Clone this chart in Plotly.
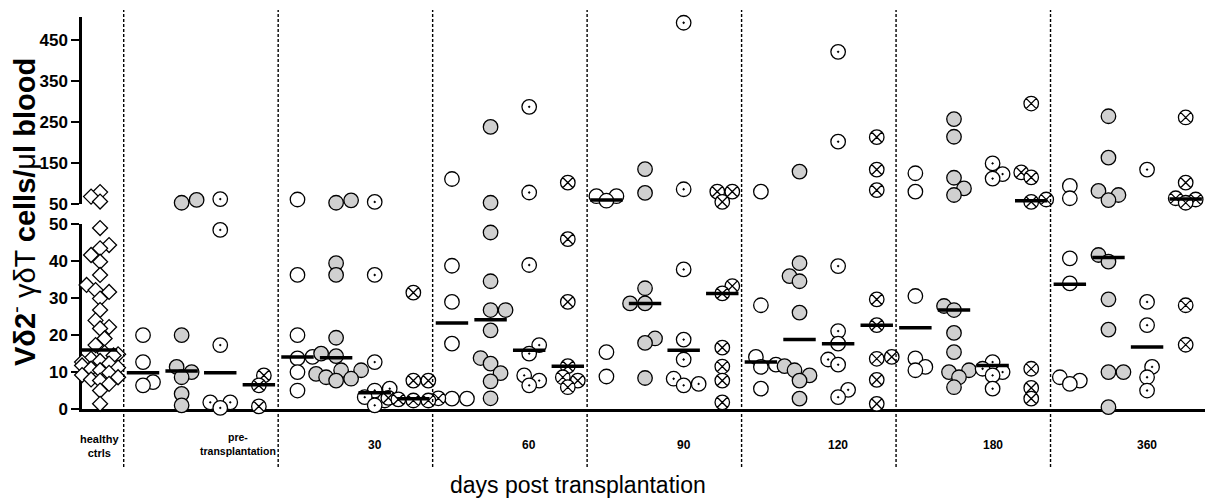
import plotly.graph_objects as go

# ---------------- data ----------------
groups = ["healthy<br>ctrls", "pre-<br>transplantation", "30", "60", "90", "120", "180", "360"]

healthy_vals = [78, 67, 55, 49.0, 44.4, 43.5, 41.7, 39.9, 36.3, 33.6, 32.2, 31.7, 29.9,
                26.8, 24.0, 22.2, 21.8, 19.1, 17.3, 15.2, 14.8, 14.5, 13.6, 13.0, 12.7,
                12.3, 11.8, 11.2, 10.9, 10.5, 9.8, 9.2, 8.6, 8.0, 7.7, 6.8, 5.0, 1.4]
healthy_median = 16.0

# one list per time point: pre, 30, 60, 90, 120, 180, 360
open_circles = [
    [20.0, 12.7, 7.3, 6.4],
    [60, 36.3, 20.0, 14.1, 13.7, 10.0, 5.0],
    [110, 38.8, 29.0, 17.7, 2.8, 2.8],
    [68, 68, 57, 15.4, 8.8],
    [79, 28.1, 14.1, 12.0, 11.4, 5.5],
    [124, 79, 30.6, 13.7, 11.4, 10.5],
    [93, 63, 40.8, 34.0, 8.6, 7.7, 6.8],
]
grey_circles = [
    [59, 52, 20.0, 11.4, 10.0, 8.6, 4.1, 1.0],
    [58, 52, 39.5, 36.3, 19.3, 15.0, 14.3, 10.5, 10.5, 9.5, 8.6, 8.2, 7.7],
    [237, 52, 47.8, 34.6, 26.8, 26.8, 21.3, 13.8, 12.3, 9.7, 7.5, 2.9],
    [134, 76, 32.7, 28.6, 28.6, 19.1, 17.9, 8.4],
    [128, 39.5, 36.0, 34.6, 26.1, 11.6, 10.5, 9.1, 7.7, 2.8],
    [256, 213, 113, 87, 71, 27.9, 26.8, 20.6, 15.4, 10.5, 10.0, 8.6, 5.9],
    [263, 162, 81, 71, 58.5, 41.7, 39.9, 29.7, 21.5, 10.0, 10.0, 0.5],
]
dot_circles = [
    [61, 48.5, 17.3, 1.8, 1.8, 0.3],
    [54, 36.3, 12.7, 5.5, 5.0, 3.2, 2.3, 1.0],
    [286, 77, 39.0, 17.3, 15.0, 9.1, 7.7, 6.4],
    [491, 85, 37.8, 18.8, 13.4, 8.2, 6.8, 6.4],
    [420, 201, 38.7, 21.1, 17.7, 13.4, 12.0, 5.2, 3.2],
    [148, 122, 111, 12.7, 10.9, 10.0, 9.1, 5.5],
    [133, 29.0, 22.7, 11.4, 8.6, 5.0],
]
cross_circles = [
    [9.1, 6.4, 0.7],
    [31.5, 7.7, 7.7, 3.0, 2.9, 2.6, 2.3, 2.3],
    [101, 46.0, 29.0, 11.6, 8.6, 7.7, 5.9],
    [79, 79, 54, 33.3, 31.3, 16.6, 11.5, 7.7, 1.8],
    [212, 133, 83, 29.7, 22.7, 14.1, 13.6, 7.9, 1.4],
    [294, 126, 114, 60, 54, 10.9, 5.7, 2.8],
    [260, 101, 68, 63, 60, 52, 28.1, 17.4],
]
open_medians = [9.8, 14.1, 23.3, 58.5, 12.7, 22.0, 33.8]
grey_medians = [10.3, 13.9, 24.2, 28.6, 18.8, 26.8, 41.0]
dot_medians = [9.8, 4.4, 15.9, 15.9, 17.7, 11.8, 16.8]
cross_medians = [6.6, 2.8, 11.6, 31.3, 22.7, 57.0, 61.0]

# ---------------- layout geometry ----------------
W, H = 1205, 500
ML, MR, MT, MB = 82, 0, 17, 91
PW, PH = W - ML - MR, H - MT - MB
LOW_DOM = [0.0, 0.471]
UP_DOM = [0.524, 1.0]
LOW_RANGE = [0, 50]
UP_RANGE = [50, 505]
HEALTHY_W = 0.27
X_MAX = HEALTHY_W + 7
PX_PER_UNIT = PW / X_MAX


def ypix(v):
    """pixel height above the x axis for a value (broken axis)"""
    if v <= 50:
        return (v - LOW_RANGE[0]) / (LOW_RANGE[1] - LOW_RANGE[0]) * LOW_DOM[1] * PH
    return UP_DOM[0] * PH + (v - UP_RANGE[0]) / (UP_RANGE[1] - UP_RANGE[0]) * (UP_DOM[1] - UP_DOM[0]) * PH


def swarm(vals, center, min_d=10.5, step=5.0, max_k=5):
    order = sorted(range(len(vals)), key=lambda i: vals[i])
    placed, xs = [], [0.0] * len(vals)
    flip = 1
    for i in order:
        py = ypix(vals[i])
        chosen = None
        for k in range(max_k + 1):
            cands = [0] if k == 0 else [flip * k * step, -flip * k * step]
            for ox in cands:
                if all((ox - qx) ** 2 + (py - qy) ** 2 >= min_d ** 2 for qx, qy in placed):
                    chosen = ox
                    break
            if chosen is not None:
                break
        if chosen is None:
            chosen = flip * max_k * step
        if chosen != 0:
            flip = -flip
        placed.append((chosen, py))
        xs[i] = center + chosen / PX_PER_UNIT
    return xs


def paper_y(ypx):
    return (H - MB - ypx) / PH


fig = go.Figure()

LINE = dict(color="black", width=1.3)
styles = [
    (open_circles, open_medians, dict(symbol="circle", color="white")),
    (grey_circles, grey_medians, dict(symbol="circle", color="#d0d0d0")),
    (dot_circles, dot_medians, dict(symbol="circle-dot", color="white")),
    (cross_circles, cross_medians, dict(symbol="circle-x", color="white")),
]


def add_points(xs, vals, marker):
    lo = [(x, v) for x, v in zip(xs, vals) if v <= 50]
    hi = [(x, v) for x, v in zip(xs, vals) if v > 50]
    for pts, ya in ((lo, "y"), (hi, "y2")):
        if pts:
            fig.add_trace(go.Scatter(
                x=[p[0] for p in pts], y=[p[1] for p in pts], mode="markers",
                marker=marker, xaxis="x", yaxis=ya, cliponaxis=False,
                showlegend=False, hoverinfo="y"))


def add_median(x0, x1, m):
    fig.add_trace(go.Scatter(
        x=[x0, x1], y=[m, m], mode="lines", line=dict(color="black", width=3.5),
        xaxis="x", yaxis="y" if m <= 50 else "y2", cliponaxis=False,
        showlegend=False, hoverinfo="skip"))


# healthy controls
hc = 0.117
hx = swarm(healthy_vals, hc, min_d=9.0, step=4.5, max_k=4)
add_points(hx, healthy_vals, dict(symbol="diamond", color="white", size=11.5, line=LINE))

# transplantation groups
MED_HALF = 0.105
for s, (series, meds, mk) in enumerate(styles):
    for g, vals in enumerate(series):
        center = HEALTHY_W + g + 0.125 + 0.25 * s
        xs = swarm(vals, center)
        add_points(xs, vals, dict(size=14.5, line=LINE, **mk))

for s, (series, meds, mk) in enumerate(styles):
    for g, m in enumerate(meds):
        center = HEALTHY_W + g + 0.125 + 0.25 * s
        add_median(center - MED_HALF, center + MED_HALF, m)
add_median(0, 0.228, healthy_median)

# separators
shapes = []
for b in [HEALTHY_W + g for g in range(7)]:
    shapes.append(dict(type="line", xref="paper", yref="paper",
                       x0=b / X_MAX, x1=b / X_MAX, y0=paper_y(467), y1=paper_y(10),
                       line=dict(color="black", width=1.4, dash="3px,2px")))

# group labels
ann = []
label_x = [0.115, HEALTHY_W + 0.74] + [HEALTHY_W + g + 0.625 for g in range(1, 7)]
label_y = [446, 444] + [445] * 6
label_size = [11, 10.5] + [12] * 6
for txt, lx, ly, ls in zip(groups, label_x, label_y, label_size):
    ann.append(dict(text=txt, x=lx, y=paper_y(ly), xref="x", yref="paper",
                    showarrow=False, xanchor="center", yanchor="middle",
                    font=dict(family="Liberation Sans, Arial", size=ls,
                              color="black", weight="bold")))

ann.append(dict(text="days post transplantation", x=(578 - ML) / PW, y=paper_y(485),
                xref="paper", yref="paper", showarrow=False,
                font=dict(family="Liberation Sans, Arial", size=23, color="black"),
                xanchor="center", yanchor="middle"))
ann.append(dict(text="<b>Vδ2</b><sup>-</sup> γδT <b>cells/</b>μ<b>l blood</b>",
                x=(23 - ML) / PW, y=paper_y(212), xref="paper", yref="paper",
                showarrow=False, textangle=-90,
                font=dict(family="Liberation Sans, Arial", size=29, color="black"),
                xanchor="center", yanchor="middle"))

tickfont = dict(family="Liberation Sans, Arial", size=17, color="black", weight="bold")
fig.update_layout(
    width=W, height=H,
    margin=dict(l=ML, r=MR, t=MT, b=MB),
    paper_bgcolor="white", plot_bgcolor="white",
    showlegend=False,
    xaxis=dict(range=[0, X_MAX], domain=[0, 1], anchor="y", showgrid=False, zeroline=False,
               showticklabels=False, ticks="", showline=True, linecolor="black",
               linewidth=2.5, layer="below traces", fixedrange=True),
    yaxis=dict(domain=LOW_DOM, range=LOW_RANGE, anchor="x", tickvals=[0, 10, 20, 30, 40, 50],
               showgrid=False, zeroline=False, showline=True, linecolor="black", linewidth=2.5,
               ticks="outside", ticklen=8, tickwidth=2, tickcolor="black",
               tickfont=tickfont, layer="below traces", fixedrange=True),
    yaxis2=dict(domain=UP_DOM, range=UP_RANGE, anchor="x", tickvals=[50, 150, 250, 350, 450],
                showgrid=False, zeroline=False, showline=True, linecolor="black", linewidth=2.5,
                ticks="outside", ticklen=8, tickwidth=2, tickcolor="black",
                tickfont=tickfont, layer="below traces", fixedrange=True),
    shapes=shapes,
    annotations=ann,
)

fig.write_html("out.html")
